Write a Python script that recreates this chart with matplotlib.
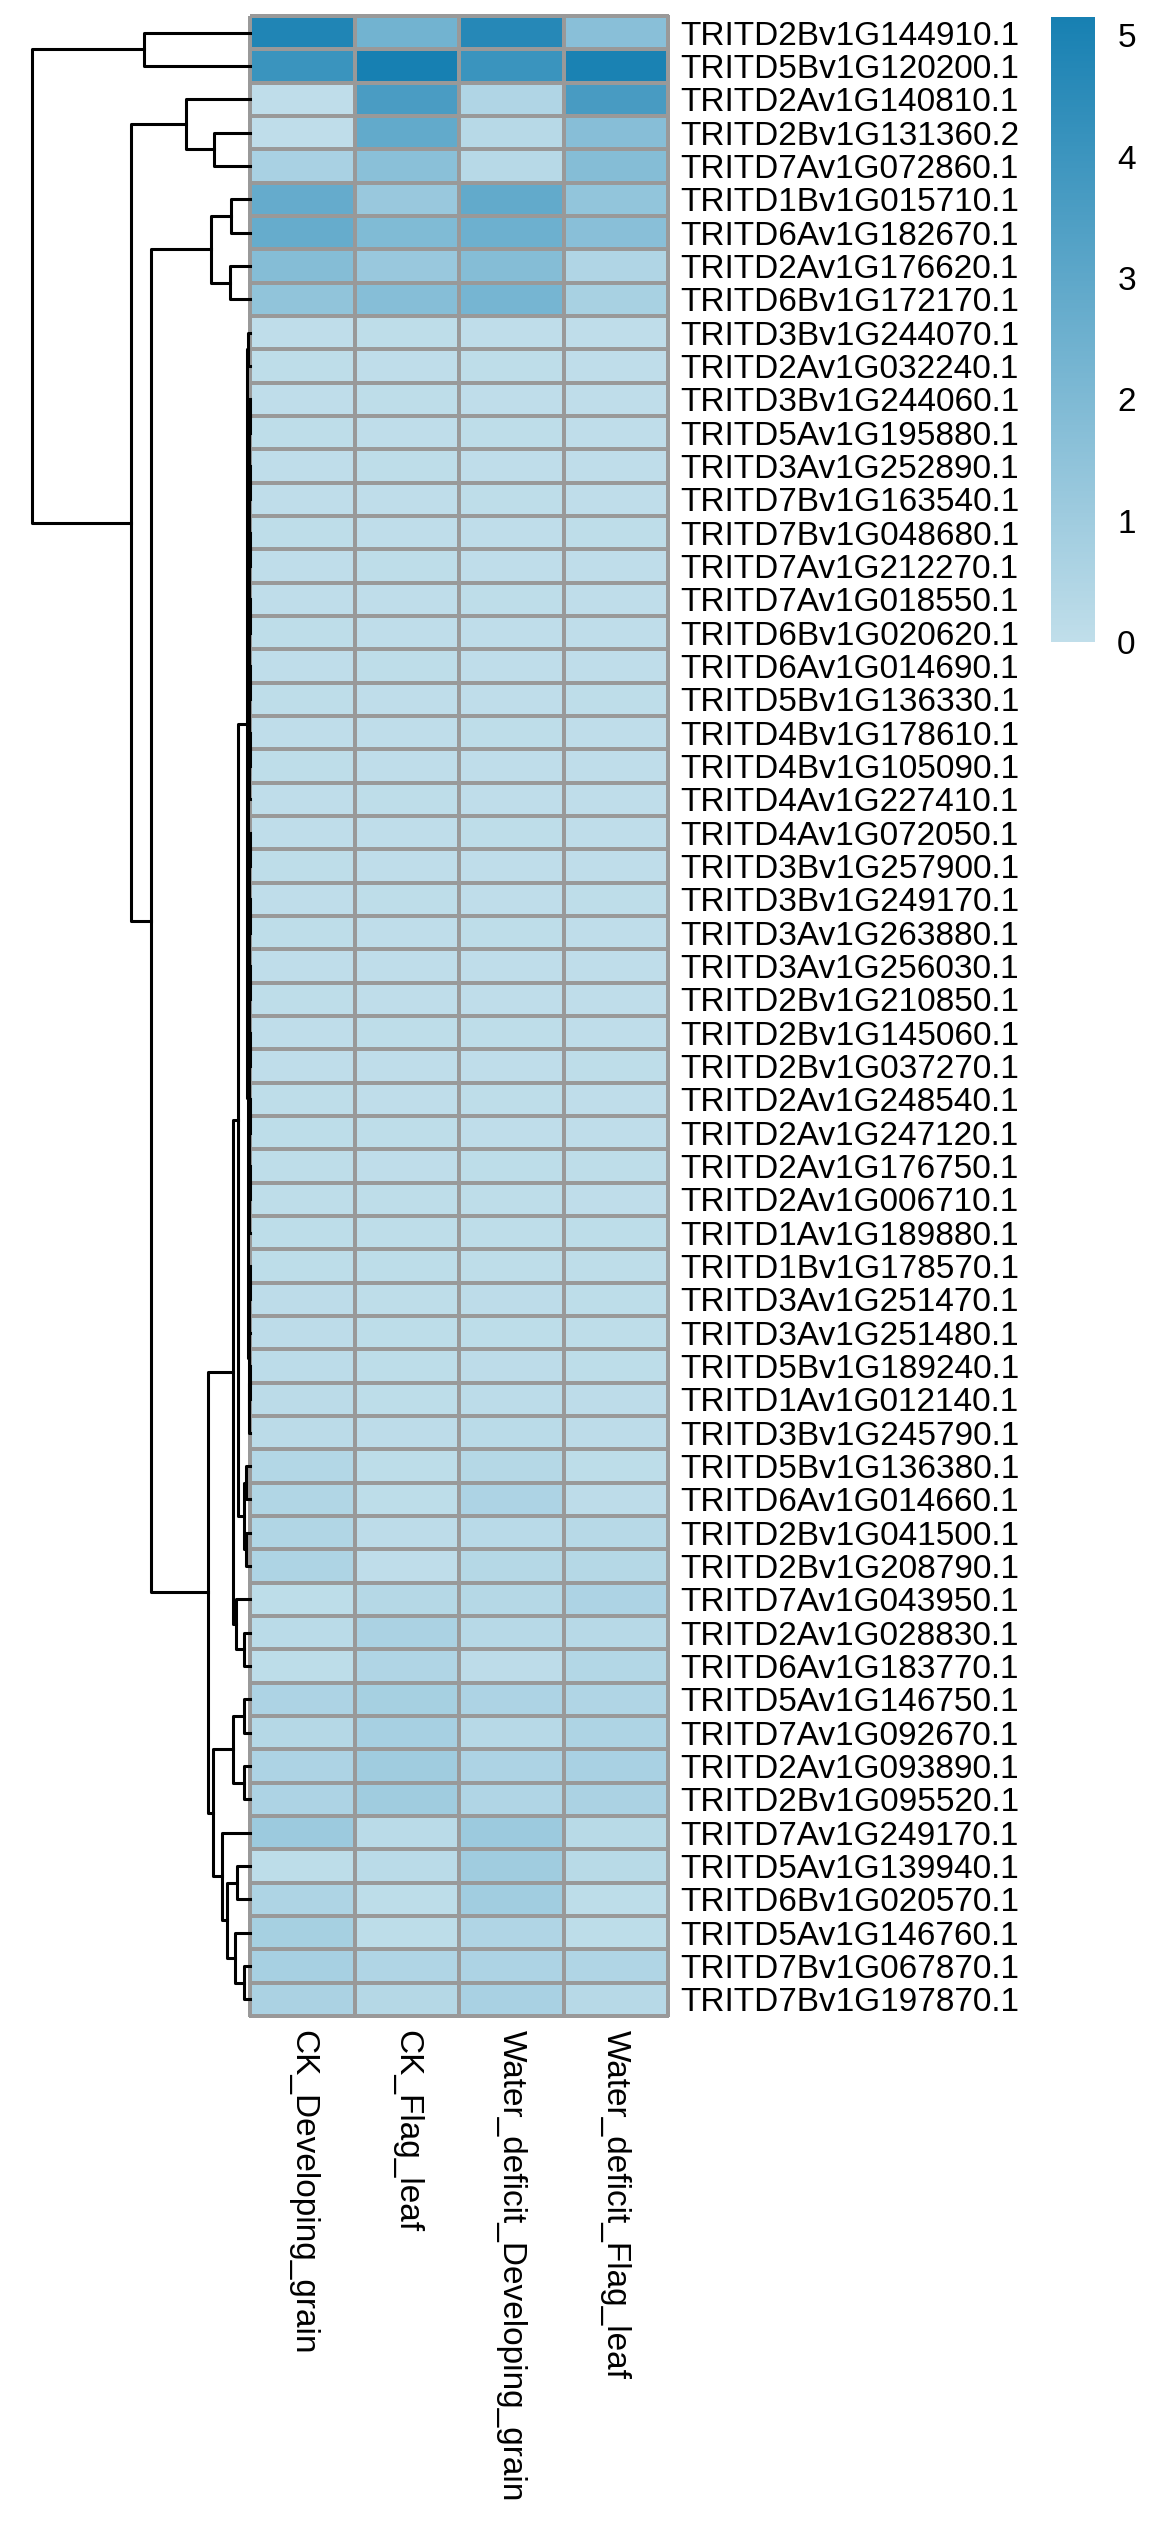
import numpy as np
import matplotlib
matplotlib.use("Agg")
import matplotlib.pyplot as plt
from matplotlib.colors import LinearSegmentedColormap

plt.rcParams['font.family'] = ['Liberation Sans', 'DejaVu Sans']

genes = [
    "TRITD2Bv1G144910.1", "TRITD5Bv1G120200.1", "TRITD2Av1G140810.1", "TRITD2Bv1G131360.2",
    "TRITD7Av1G072860.1", "TRITD1Bv1G015710.1", "TRITD6Av1G182670.1", "TRITD2Av1G176620.1",
    "TRITD6Bv1G172170.1", "TRITD3Bv1G244070.1", "TRITD2Av1G032240.1", "TRITD3Bv1G244060.1",
    "TRITD5Av1G195880.1", "TRITD3Av1G252890.1", "TRITD7Bv1G163540.1", "TRITD7Bv1G048680.1",
    "TRITD7Av1G212270.1", "TRITD7Av1G018550.1", "TRITD6Bv1G020620.1", "TRITD6Av1G014690.1",
    "TRITD5Bv1G136330.1", "TRITD4Bv1G178610.1", "TRITD4Bv1G105090.1", "TRITD4Av1G227410.1",
    "TRITD4Av1G072050.1", "TRITD3Bv1G257900.1", "TRITD3Bv1G249170.1", "TRITD3Av1G263880.1",
    "TRITD3Av1G256030.1", "TRITD2Bv1G210850.1", "TRITD2Bv1G145060.1", "TRITD2Bv1G037270.1",
    "TRITD2Av1G248540.1", "TRITD2Av1G247120.1", "TRITD2Av1G176750.1", "TRITD2Av1G006710.1",
    "TRITD1Av1G189880.1", "TRITD1Bv1G178570.1", "TRITD3Av1G251470.1", "TRITD3Av1G251480.1",
    "TRITD5Bv1G189240.1", "TRITD1Av1G012140.1", "TRITD3Bv1G245790.1", "TRITD5Bv1G136380.1",
    "TRITD6Av1G014660.1", "TRITD2Bv1G041500.1", "TRITD2Bv1G208790.1", "TRITD7Av1G043950.1",
    "TRITD2Av1G028830.1", "TRITD6Av1G183770.1", "TRITD5Av1G146750.1", "TRITD7Av1G092670.1",
    "TRITD2Av1G093890.1", "TRITD2Bv1G095520.1", "TRITD7Av1G249170.1", "TRITD5Av1G139940.1",
    "TRITD6Bv1G020570.1", "TRITD5Av1G146760.1", "TRITD7Bv1G067870.1", "TRITD7Bv1G197870.1",
]

samples = ["CK_Developing_grain", "CK_Flag_leaf",
           "Water_deficit_Developing_grain", "Water_deficit_Flag_leaf"]

ck_grain = [4.85, 4.08, 0.05, 0.05, 0.70, 2.77, 2.75, 1.80, 1.43,
            0.05, 0.08, 0.06, 0.07, 0.05, 0.06, 0.07, 0.06, 0.05, 0.07,
            0.06, 0.08, 0.06, 0.07, 0.05, 0.06, 0.07, 0.06, 0.08, 0.06,
            0.07, 0.05, 0.06, 0.07, 0.09, 0.08, 0.07, 0.10, 0.09, 0.11,
            0.12, 0.13, 0.15, 0.18, 0.40, 0.45, 0.45, 0.55, 0.10, 0.20,
            0.10, 0.60, 0.35, 0.60, 0.60, 1.10, 0.10, 0.55, 0.80, 0.75, 0.65]
ck_leaf = [2.38, 5.15, 3.60, 2.86, 1.65, 1.19, 1.95, 1.19, 1.77,
           0.08, 0.06, 0.07, 0.06, 0.07, 0.05, 0.06, 0.07, 0.06, 0.05,
           0.07, 0.06, 0.05, 0.06, 0.07, 0.06, 0.05, 0.07, 0.06, 0.05,
           0.06, 0.07, 0.06, 0.05, 0.07, 0.06, 0.08, 0.07, 0.10, 0.08,
           0.09, 0.10, 0.10, 0.12, 0.10, 0.10, 0.12, 0.06, 0.35, 0.65,
           0.50, 0.80, 0.75, 1.00, 1.00, 0.20, 0.20, 0.10, 0.10, 0.50, 0.35]
wd_grain = [4.70, 4.08, 0.49, 0.30, 0.30, 2.86, 2.53, 1.80, 2.25,
            0.06, 0.07, 0.05, 0.08, 0.06, 0.07, 0.05, 0.06, 0.07, 0.06,
            0.05, 0.06, 0.07, 0.05, 0.06, 0.07, 0.06, 0.05, 0.07, 0.06,
            0.05, 0.07, 0.06, 0.08, 0.06, 0.09, 0.07, 0.08, 0.08, 0.12,
            0.10, 0.12, 0.14, 0.20, 0.35, 0.60, 0.22, 0.35, 0.35, 0.30,
            0.12, 0.60, 0.30, 0.60, 0.50, 1.10, 1.00, 0.95, 0.50, 0.60, 0.70]
wd_leaf = [1.68, 5.03, 3.65, 1.74, 1.80, 1.40, 1.68, 0.49, 0.73,
           0.05, 0.05, 0.06, 0.05, 0.06, 0.05, 0.07, 0.05, 0.06, 0.05,
           0.06, 0.07, 0.06, 0.05, 0.06, 0.05, 0.06, 0.07, 0.05, 0.06,
           0.05, 0.06, 0.07, 0.05, 0.06, 0.07, 0.06, 0.09, 0.07, 0.09,
           0.08, 0.10, 0.11, 0.12, 0.10, 0.12, 0.30, 0.35, 0.60, 0.30,
           0.40, 0.50, 0.55, 0.70, 0.65, 0.25, 0.25, 0.10, 0.10, 0.50, 0.30]

# row dendrogram: nodes are (left, right, height), leaves are row indices
top_pair = (0, 1, 106)
grp_345 = (2, (3, 4, 36), 64)
grp_6789 = ((5, 6, 19), (7, 8, 20), 39)
low_a = ((((11, 12, 0.3), (13, 14, 0.3), 0.7), ((15, 16, 0.3), (17, 18, 0.3), 0.7), 1.1),
         ((19, 20, 0.3), ((21, 22, 0.3), 23, 0.6), 0.9), 1.4)
low_b = ((((24, 25, 0.3), (26, 27, 0.3), 0.7), ((28, 29, 0.3), (30, 31, 0.3), 0.7), 1.1),
         ((32, 33, 0.3), ((34, 35, 0.3), 36, 0.6), 0.9), 1.4)
low_c = (((37, 38, 0.3), 39, 0.6), ((40, 41, 0.3), 42, 0.6), 1.2)
low_all = ((9, 10, 2.0), ((low_a, low_b, 1.8), low_c, 2.5), 3.0)
grp_44_47 = ((43, 44, 4), (45, 46, 4), 6)
grp_d = ((low_all, grp_44_47, 12), (47, (48, 49, 6), 14), 17)
grp_e = (((50, 51, 6), (52, 53, 6), 17),
         (54, ((55, 56, 13), (57, (58, 59, 6), 15), 23), 28), 37)
row_tree = (top_pair, (grp_345, (grp_6789, (grp_d, grp_e, 42), 99), 119), 218)

W, H = 1170, 2531
fig = plt.figure(figsize=(W / 100, H / 100), dpi=100)


def box(x0, y0, x1, y1):
    return [x0 / W, 1 - y1 / H, (x1 - x0) / W, (y1 - y0) / H]


cmap = LinearSegmentedColormap.from_list("blues", ["#C0DEEA", "#1780B2"])
mat = np.column_stack([ck_grain, ck_leaf, wd_grain, wd_leaf])
vmax = mat.max()
n = len(genes)

ax = fig.add_axes(box(250, 16, 668, 2016))
mesh = ax.pcolormesh(mat, cmap=cmap, vmin=0, vmax=vmax,
                     edgecolors="#999999", linewidth=1.6)
mesh.set_clip_on(False)
ax.set_xlim(0, 4)
ax.set_ylim(n, 0)
for s in ax.spines.values():
    s.set_visible(False)
ax.yaxis.tick_right()
ax.set_yticks(np.arange(n) + 0.5)
ax.set_yticklabels(genes, fontsize=24)
ax.set_xticks(np.arange(4) + 0.5)
ax.set_xticklabels(samples, fontsize=24, rotation=-90, va="top", ha="center")
ax.tick_params(axis="y", length=0, pad=9)
ax.tick_params(axis="x", length=0, pad=10)

# dendrogram
dax = fig.add_axes(box(32, 16, 250, 2016))
dax.set_xlim(218, 0)
dax.set_ylim(n, 0)
dax.axis("off")


def draw(node):
    if isinstance(node, int):
        return node + 0.5, 0.0
    left, right, h = node
    y1, h1 = draw(left)
    y2, h2 = draw(right)
    dax.plot([h1, h, h, h2], [y1, y1, y2, y2], color="black", lw=2.2,
             clip_on=False)
    return (y1 + y2) / 2, h


draw(row_tree)

# legend
cax = fig.add_axes(box(1051, 17, 1095, 642))
cb = fig.colorbar(mesh, cax=cax, ticks=[0, 1, 2, 3, 4, 5])
cb.outline.set_visible(False)
cax.tick_params(length=0, pad=16, labelsize=24)

fig.savefig("out.png", dpi=100)
